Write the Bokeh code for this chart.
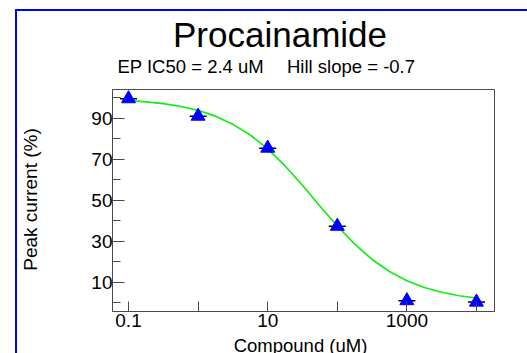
import math
from bokeh.plotting import figure
from bokeh.models import (ColumnDataSource, Range1d, FixedTicker, Label)
from bokeh.embed import file_html
from bokeh.resources import INLINE

# ---- data ----
TITLE = "Procainamide"
SUB_LEFT = "EP IC50 = 2.4 uM"
SUB_RIGHT = "Hill slope = -0.7"
X_LABEL = "Compound (uM)"
Y_LABEL = "Peak current (%)"

conc = [0.1, 1, 10, 100, 1000, 10000]
peak = [99.5, 91.0, 75.4, 37.3, 1.0, 0.3]

fit_x = [0.1, 0.178, 0.316, 0.562, 1, 1.78, 3.16, 5.62, 10, 17.8, 31.6, 56.2,
         100, 178, 316, 562, 1000, 1778, 3162, 5623, 10000]
fit_y = [98.7, 98.0, 97.1, 95.7, 93.8, 91.0, 87.0, 81.8, 75.0, 66.7, 57.3, 47.2,
         37.4, 28.6, 21.1, 15.2, 10.7, 7.4, 5.1, 3.4, 2.3]

x_major = [0.1, 10, 1000]
x_major_labels = ["0.1", "10", "1000"]
x_minor = [1, 100, 10000]
y_major = [10, 30, 50, 70, 90]
y_minor = [0, 20, 40, 60, 80, 100]

FONT = "Liberation Sans"
AX = "#4a4a4a"

p = figure(width=527, height=353, x_axis_type="log",
           x_range=Range1d(0.0589, 18150), y_range=Range1d(-4.29, 104.0),
           output_backend="svg", toolbar_location=None,
           min_border_left=112, min_border_top=89, min_border_right=33, min_border_bottom=42)
p.background_fill_color = "white"
p.border_fill_alpha = 0
p.outline_line_color = AX
p.outline_line_width = 1
p.xgrid.visible = False
p.ygrid.visible = False
# blue outer frame (left and top edges, running off the window)
p.styles = {
    "background-color": "white",
    "background-image": "linear-gradient(#0000ff, #0000ff), linear-gradient(#0000ff, #0000ff)",
    "background-size": "2px 100%, 100% 2px",
    "background-position": "15px 9px, 15px 9px",
    "background-repeat": "no-repeat",
}

xa = p.xaxis[0]
xa.ticker = FixedTicker(ticks=x_major, minor_ticks=x_minor)
xa.major_label_overrides = {t: l for t, l in zip(x_major, x_major_labels)}
xa.major_tick_in = 10
xa.major_tick_out = 0
xa.minor_tick_in = 10
xa.minor_tick_out = 0
xa.axis_line_color = AX
xa.major_tick_line_color = AX
xa.minor_tick_line_color = AX
xa.major_label_text_font = FONT
xa.major_label_text_font_size = "19px"
xa.major_label_text_color = "black"
xa.major_label_standoff = 2

ya = p.yaxis[0]
ya.ticker = FixedTicker(ticks=y_major, minor_ticks=y_minor)
ya.major_tick_in = 12
ya.major_tick_out = 0
ya.minor_tick_in = 8
ya.minor_tick_out = 0
ya.axis_line_color = AX
ya.major_tick_line_color = AX
ya.minor_tick_line_color = AX
ya.major_label_text_font = FONT
ya.major_label_text_font_size = "19px"
ya.major_label_text_color = "black"
ya.major_label_standoff = 0

src = ColumnDataSource(dict(x=conc, y=peak))
p.line(fit_x, fit_y, line_color="#11ee11", line_width=1.7)
p.scatter("x", "y", source=src, marker="dash", size=17, line_color="black", line_width=1.5)
p.scatter("x", "y", source=src, marker="triangle", size=14, fill_color="#0000ff", line_color="#0000ff")

p.add_layout(Label(x=279.5, y=33.5, x_units="canvas", y_units="canvas", text=TITLE,
                   text_font=FONT, text_font_size="35px", text_align="center",
                   text_baseline="alphabetic", text_color="black"), "above")
p.add_layout(Label(x=117, y=66.3, x_units="canvas", y_units="canvas", text=SUB_LEFT,
                   text_font=FONT, text_font_size="18.5px", text_align="left",
                   text_baseline="alphabetic", text_color="black"), "above")
p.add_layout(Label(x=286.5, y=66.3, x_units="canvas", y_units="canvas", text=SUB_RIGHT,
                   text_font=FONT, text_font_size="18.5px", text_align="left",
                   text_baseline="alphabetic", text_color="black"), "above")
p.add_layout(Label(x=300, y=345.2, x_units="canvas", y_units="canvas", text=X_LABEL,
                   text_font=FONT, text_font_size="18.5px", text_align="center",
                   text_baseline="alphabetic", text_color="black"), "below")
p.add_layout(Label(x=30.2, y=199, x_units="canvas", y_units="canvas", text=Y_LABEL,
                   angle=math.pi / 2, text_font=FONT, text_font_size="19px",
                   text_align="center", text_baseline="alphabetic", text_color="black"), "left")

open("out.html", "w").write(file_html(p, INLINE))
